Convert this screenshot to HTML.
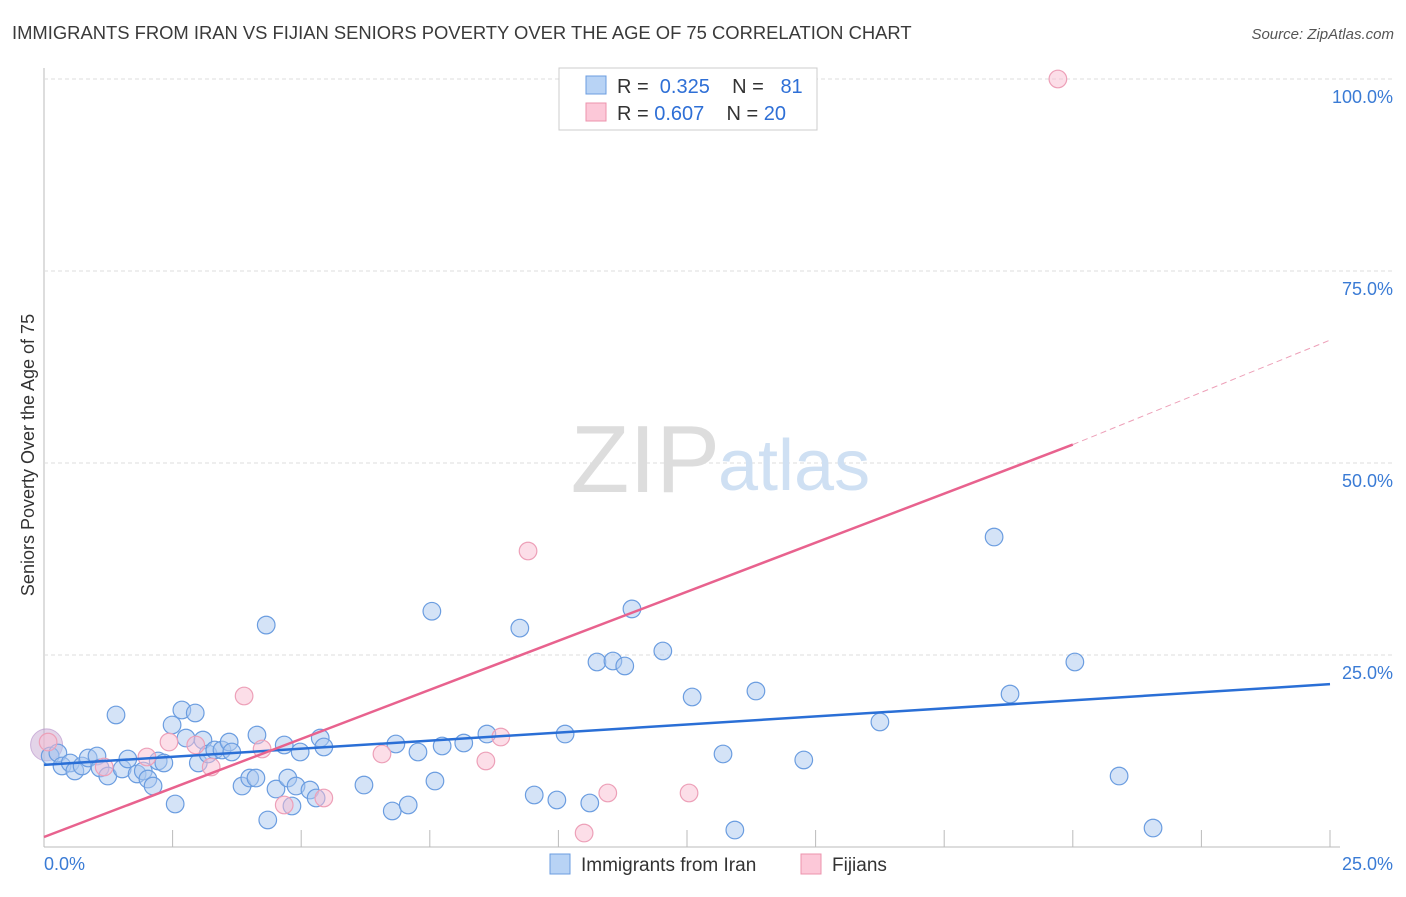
<!DOCTYPE html>
<html><head><meta charset="utf-8"><style>
body{margin:0;background:#fff;font-family:"Liberation Sans",sans-serif}
svg text{font-family:"Liberation Sans",sans-serif}
</style></head><body>
<svg width="1406" height="892">
<text x="12" y="39" font-size="18.4" fill="#3a3a3a">IMMIGRANTS FROM IRAN VS FIJIAN SENIORS POVERTY OVER THE AGE OF 75 CORRELATION CHART</text>
<text x="1394" y="39" font-size="15" fill="#555" text-anchor="end" font-style="italic">Source: ZipAtlas.com</text>
<g id="grid"></g>
<text x="720" y="492" font-size="96" fill="#ddd" text-anchor="end" font-family="Liberation Serif">ZIP</text>
<text x="718" y="490" font-size="72" fill="#cfe0f3">atlas</text>
<text x="34" y="455" font-size="18" fill="#333" text-anchor="middle" transform="rotate(-90 34 455)">Seniors Poverty Over the Age of 75</text>
<g id="marks"></g>
<g>
<rect x="559" y="68" width="258" height="62" fill="#fff" stroke="#ccc"/>
<rect x="586" y="76" width="20" height="18" fill="#b8d3f5" stroke="#6b9de0"/>
<rect x="586" y="103" width="20" height="18" fill="#fcc8d8" stroke="#ec93ad"/>
<text x="617" y="93" font-size="20" fill="#333" xml:space="preserve">R =  <tspan fill="#2e6fd6">0.325</tspan>    N =   <tspan fill="#2e6fd6">81</tspan></text>
<text x="617" y="120" font-size="20" fill="#333" xml:space="preserve">R = <tspan fill="#2e6fd6">0.607</tspan>    N = <tspan fill="#2e6fd6">20</tspan></text>
</g>
<g>
<rect x="550" y="854" width="20" height="20" fill="#b8d3f5" stroke="#6b9de0"/>
<text x="581" y="871" font-size="19" fill="#333">Immigrants from Iran</text>
<rect x="801" y="854" width="20" height="20" fill="#fcc8d8" stroke="#ec93ad"/>
<text x="832" y="871" font-size="19" fill="#333">Fijians</text>
</g>
</svg>
<script>
const xTicks=[0,25];
const yTicks=[25,50,75,100];
const blueX=[0.12,0.27,0.35,0.51,0.6,0.74,0.86,1.03,1.09,1.24,1.4,1.52,1.63,1.81,1.93,2.02,2.12,2.22,2.33,2.49,2.55,2.68,2.76,2.94,3.0,3.09,3.19,3.32,3.46,3.6,3.65,3.85,4.0,4.12,4.14,4.32,4.35,4.51,4.67,4.74,4.82,4.9,4.98,5.17,5.29,5.37,5.44,6.22,6.77,6.84,7.08,7.27,7.54,7.6,7.74,8.16,8.61,9.25,9.53,9.97,10.13,10.61,10.75,11.06,11.29,11.43,12.03,12.6,13.43,13.2,13.84,14.77,16.25,18.47,18.78,20.04,20.9,21.56];
const blueY=[11.85,12.24,10.55,10.94,9.9,10.55,11.59,11.85,10.29,9.24,17.19,10.16,11.46,9.51,9.9,8.85,7.94,11.2,10.94,15.89,5.6,17.84,14.19,17.45,10.94,13.93,12.11,12.63,12.63,13.67,12.37,7.94,8.98,8.98,14.58,28.9,3.52,7.55,13.28,8.98,5.34,7.94,12.37,7.42,6.38,14.19,13.02,8.07,4.69,13.41,5.47,12.37,30.7,8.59,13.15,13.54,14.71,28.5,6.77,6.12,14.71,5.73,24.09,24.22,23.57,31.0,25.52,19.53,2.21,12.11,20.31,11.33,16.28,40.36,19.92,24.09,9.24,2.47];
const pinkX=[0.08,1.17,2.0,2.43,2.95,3.25,3.89,4.24,4.67,5.44,6.57,8.59,8.88,9.41,10.5,10.96,12.54,19.71];
const pinkY=[13.67,10.42,11.72,13.67,13.28,10.42,19.66,12.76,5.47,6.38,12.11,11.2,14.32,38.54,1.82,7.03,7.03,100];
const blueLine=[0,10.7,25,21.2];
const pinkLine=[0,1.3,20,52.4,25,66];
const X=v=>44+v*51.44, Y=v=>847-v*7.68;
const NS="http://www.w3.org/2000/svg";
function mk(t,a,p){const e=document.createElementNS(NS,t);for(const k in a)e.setAttribute(k,a[k]);p.appendChild(e);return e;}
const g=document.getElementById('grid'), m=document.getElementById('marks');
let ax=mk('line',{x1:44,y1:68,x2:44,y2:847,stroke:'#bbb'},g);


let bx=mk('line',{x1:44,y1:847,x2:1340,y2:847,stroke:'#bbb'},g);


for(let i=1;i<=10;i++){const l=mk('line',{x1:44+i*128.6,y1:830,x2:44+i*128.6,y2:847,stroke:'#bbb'},g);

}
yTicks.forEach(v=>{const l=mk('line',{x1:44,y1:Y(v),x2:1395,y2:Y(v),stroke:'#ddd','stroke-dasharray':'4,3'},g);


const t=mk('text',{x:1393,y:Y(v)+24,'font-size':18,fill:'#3a7bd5','text-anchor':'end'},g);t.textContent=v.toFixed(1)+'%';

});
xTicks.forEach((v,i)=>{const t=mk('text',{x:i?1393:44,y:870,'font-size':18,fill:'#3a7bd5','text-anchor':i?'end':'start'},g);t.textContent=v.toFixed(1)+'%';

});
const big=mk('circle',{cx:X(0.05),cy:Y(13.3),r:16,fill:'rgba(200,170,210,0.5)',stroke:'rgba(180,140,200,0.6)'},m);


blueX.forEach((v,i)=>{const c=mk('circle',{cx:X(v),cy:Y(blueY[i]),r:8.8,fill:'rgba(170,200,240,0.5)',stroke:'#6b9de0','stroke-width':1.2},m);

});
pinkX.forEach((v,i)=>{const c=mk('circle',{cx:X(v),cy:Y(pinkY[i]),r:8.8,fill:'rgba(250,190,210,0.5)',stroke:'#eda0b8','stroke-width':1.2},m);

});
const bl=mk('line',{x1:X(blueLine[0]),y1:Y(blueLine[1]),x2:X(blueLine[2]),y2:Y(blueLine[3]),stroke:'#2a6fd6','stroke-width':2.5},m);


const pl=mk('line',{x1:X(pinkLine[0]),y1:Y(pinkLine[1]),x2:X(pinkLine[2]),y2:Y(pinkLine[3]),stroke:'#e8628e','stroke-width':2.5},m);


const pd=mk('line',{x1:X(pinkLine[2]),y1:Y(pinkLine[3]),x2:X(pinkLine[4]),y2:Y(pinkLine[5]),stroke:'#eda0b8','stroke-width':1,'stroke-dasharray':'6,4'},m);


</script>
</body></html>
